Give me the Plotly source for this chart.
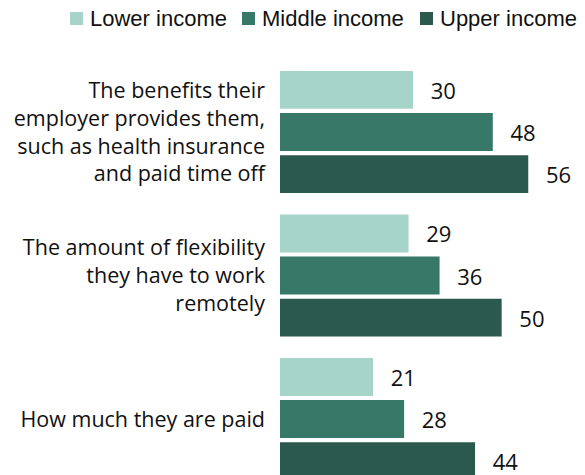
import plotly.graph_objects as go

categories = [
    "The benefits their<br>employer provides them,<br>such as health insurance<br>and paid time off",
    "The amount of flexibility<br>they have to work<br>remotely",
    "How much they are paid",
]
series_names = ["Lower income", "Middle income", "Upper income"]
lower_income = [30, 29, 21]
middle_income = [48, 36, 28]
upper_income = [56, 50, 44]
colors = ["#A6D4C8", "#387868", "#2B594E"]

W, H = 585, 475
LEFT = 280  # left margin in px (space for category labels)

# small gap between the end of each bar and its value label
LABEL_GAP = "\u2002\u2009"

fig = go.Figure()
for name, vals, color in zip(series_names, [lower_income, middle_income, upper_income], colors):
    fig.add_trace(go.Bar(
        y=categories,
        x=vals,
        name=name,
        orientation="h",
        marker=dict(color=color, line=dict(width=0)),
        text=[LABEL_GAP + str(v) for v in vals],
        textposition="outside",
        textfont=dict(size=22, color="#111111", family="Open Sans"),
        cliponaxis=False,
        showlegend=False,
    ))

# Legend drawn as swatches + labels across the top
def px_to_paper_x(px):
    return (px - LEFT) / (W - LEFT)

def px_to_paper_y(py):
    return 1 - py / H

legend_left = [70, 242, 420]
sw = 13
sw_top, sw_bottom = 12, 25
for name, color, lx in zip(series_names, colors, legend_left):
    fig.add_shape(
        type="rect", xref="paper", yref="paper",
        x0=px_to_paper_x(lx), x1=px_to_paper_x(lx + sw),
        y0=px_to_paper_y(sw_bottom), y1=px_to_paper_y(sw_top),
        fillcolor=color, line=dict(width=0),
    )
    fig.add_annotation(
        xref="paper", yref="paper",
        x=px_to_paper_x(lx + sw + 5), y=px_to_paper_y((sw_top + sw_bottom) / 2),
        xanchor="left", yanchor="middle",
        text=name, showarrow=False,
        font=dict(size=22, family="Liberation Sans", color="#111111"),
    )

fig.update_layout(
    width=W,
    height=H,
    barmode="group",
    bargap=0.12,
    bargroupgap=0.1,
    margin=dict(l=LEFT, r=0, t=0, b=0, autoexpand=False),
    paper_bgcolor="white",
    plot_bgcolor="white",
    font=dict(family="Open Sans", size=22, color="#111111"),
    showlegend=False,
)
fig.update_xaxes(range=[0, 68.8], visible=False, fixedrange=True)
fig.update_yaxes(
    range=[2.39, -0.92],
    showgrid=False, zeroline=False, showline=False, ticks="",
    ticklabelstandoff=14,
    tickfont=dict(size=21.5, family="Open Sans", color="#111111"),
)

fig.write_html("out.html")
